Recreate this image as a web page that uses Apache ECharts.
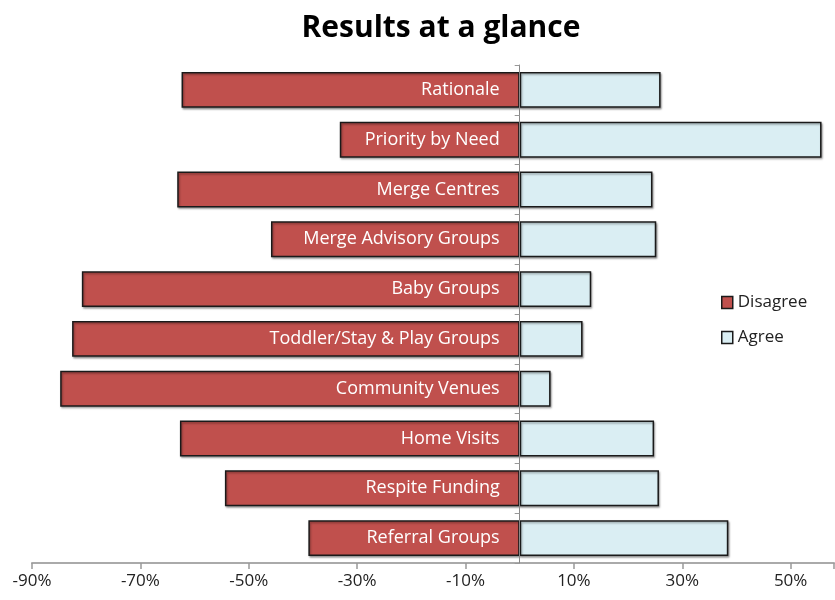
<!DOCTYPE html>
<html><head><meta charset="utf-8">
<script src="https://cdn.jsdelivr.net/npm/echarts@6/dist/echarts.min.js"></script>
<style>html,body{margin:0;padding:0;background:#fff}#c{width:835px;height:600px}</style>
</head><body><div id="c"></div>
<script>
const categories = ['Rationale','Priority by Need','Merge Centres','Merge Advisory Groups','Baby Groups','Toddler/Stay & Play Groups','Community Venues','Home Visits','Respite Funding','Referral Groups'];
const disagree = [-62.4, -33.2, -63.2, -45.9, -80.8, -82.6, -84.8, -62.7, -54.4, -39.0];
const agree = [26.0, 55.7, 24.5, 25.2, 13.2, 11.6, 5.7, 24.8, 25.7, 38.5];
const xTicks = [-90, -70, -50, -30, -10, 10, 30, 50];

const chart = echarts.init(document.getElementById('c'));
const font = 'Open Sans';
const barStyle = (c) => ({
  color: c, borderColor: '#1a1a1a', borderWidth: 1.5,
  shadowColor: 'rgba(0,0,0,0.35)', shadowBlur: 2, shadowOffsetX: 1, shadowOffsetY: 1.5
});
chart.setOption({
  animation: false,
  title: { text: 'Results at a glance', left: 436, textAlign: 'center', top: 8,
    textStyle: { fontFamily: font, fontWeight: 'bold', fontSize: 30, color: '#000' } },
  legend: { orient: 'vertical', left: 716, top: 289, itemGap: 18, itemWidth: 11, itemHeight: 12, icon: 'rect',
    textStyle: { fontFamily: font, fontSize: 17, color: '#222' },
    data: [
      { name: 'Disagree', itemStyle: { color: '#C0504D', borderColor: '#1a1a1a', borderWidth: 1.5 } },
      { name: 'Agree', itemStyle: { color: '#DAEEF3', borderColor: '#1a1a1a', borderWidth: 1.5 } }
    ] },
  grid: { left: 32, right: 1, top: 65, bottom: 37, containLabel: false, outerBoundsMode: 'none' },
  xAxis: { type: 'value', min: -90, max: 58, interval: 20,
    splitLine: { show: false },
    axisLine: { show: true, onZero: false, lineStyle: { color: '#aaa', width: 2 } },
    axisTick: { show: true, length: 6, lineStyle: { color: '#999', width: 1.5 } },
    axisLabel: { margin: 10, fontFamily: font, fontSize: 17, color: '#222',
      formatter: v => xTicks.indexOf(Math.round(v)) >= 0 ? Math.round(v) + '%' : '' } },
  yAxis: { type: 'category', data: categories, inverse: true, z: 10,
    axisLine: { show: true, onZero: true, lineStyle: { color: '#888', width: 1 } },
    axisTick: { show: true, length: 5, lineStyle: { color: '#999' } },
    axisLabel: { show: false } },
  series: [
    { name: 'Disagree', type: 'bar', data: disagree, barWidth: '72%', barGap: '-100%', itemStyle: barStyle('#C0504D'),
      label: { show: true, position: 'insideRight', distance: 20, formatter: p => p.name,
        fontFamily: font, fontSize: 18, color: '#fff' } },
    { name: 'Agree', type: 'bar', data: agree, barWidth: '72%', itemStyle: barStyle('#DAEEF3') }
  ]
});
</script></body></html>
